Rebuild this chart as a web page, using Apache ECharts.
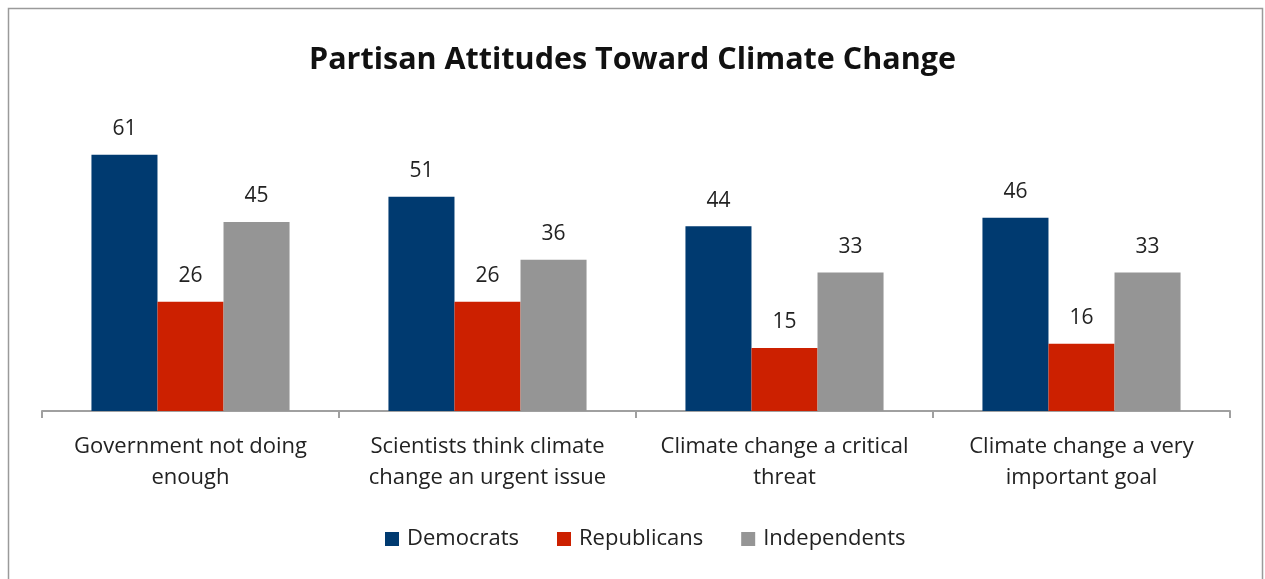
<!DOCTYPE html>
<html>
<head>
    <meta charset="utf-8">
    <script src="https://cdn.jsdelivr.net/npm/echarts@6/dist/echarts.min.js"></script>
</head>
<body style="margin:0">
    <div id="main" style="width: 1265px;height:579px;"></div>
    <script type="text/javascript">
        // chart data
        var categories = [
            'Government not doing\nenough',
            'Scientists think climate\nchange an urgent issue',
            'Climate change a critical\nthreat',
            'Climate change a very\nimportant goal'
        ];
        var democrats = [61, 51, 44, 46];
        var republicans = [26, 26, 15, 16];
        var independents = [45, 36, 33, 33];

        var font = '"Open Sans", Lato, sans-serif';
        var myChart = echarts.init(document.getElementById('main'));

        var barLabel = {
            show: true,
            position: 'top',
            distance: 15,
            color: '#222',
            fontSize: 21,
            fontFamily: font
        };

        var option = {
            backgroundColor: '#fff',
            title: {
                text: 'Partisan Attitudes Toward Climate Change',
                left: 'center',
                top: 40,
                textStyle: {
                    fontSize: 30.5,
                    fontWeight: 'bold',
                    color: '#111',
                    fontFamily: font
                }
            },
            graphic: [{
                type: 'rect',
                shape: { x: 8.5, y: 8.5, width: 1254, height: 600 },
                style: { fill: 'none', stroke: '#9a9a9a', lineWidth: 1.5 },
                silent: true
            }],
            legend: {
                bottom: 24,
                left: 380,
                itemWidth: 14,
                itemHeight: 14,
                itemGap: 38,
                icon: 'rect',
                textStyle: { fontSize: 22, color: '#222', fontFamily: font, padding: [0, 0, 0, 3] },
                data: ['Democrats', 'Republicans', 'Independents']
            },
            grid: {
                left: 42,
                right: 35,
                top: 117,
                bottom: 168
            },
            xAxis: {
                type: 'category',
                data: categories,
                axisLine: { lineStyle: { color: '#a0a0a0', width: 2 } },
                axisTick: { show: true, interval: 0, length: 7, lineStyle: { color: '#a0a0a0', width: 2 } },
                axisLabel: {
                    interval: 0,
                    fontSize: 22,
                    color: '#222',
                    lineHeight: 31,
                    margin: 20,
                    fontFamily: font
                }
            },
            yAxis: {
                type: 'value',
                min: 0,
                max: 70,
                show: false,
                splitLine: { show: false }
            },
            series: [{
                name: 'Democrats',
                type: 'bar',
                data: democrats,
                barGap: 0,
                barCategoryGap: '33.3%',
                itemStyle: { color: '#003a70' },
                label: barLabel
            }, {
                name: 'Republicans',
                type: 'bar',
                data: republicans,
                itemStyle: { color: '#cc2000' },
                label: barLabel
            }, {
                name: 'Independents',
                type: 'bar',
                data: independents,
                itemStyle: { color: '#959595' },
                label: barLabel
            }]
        };
        myChart.setOption(option);
    </script>
</body>
</html>
